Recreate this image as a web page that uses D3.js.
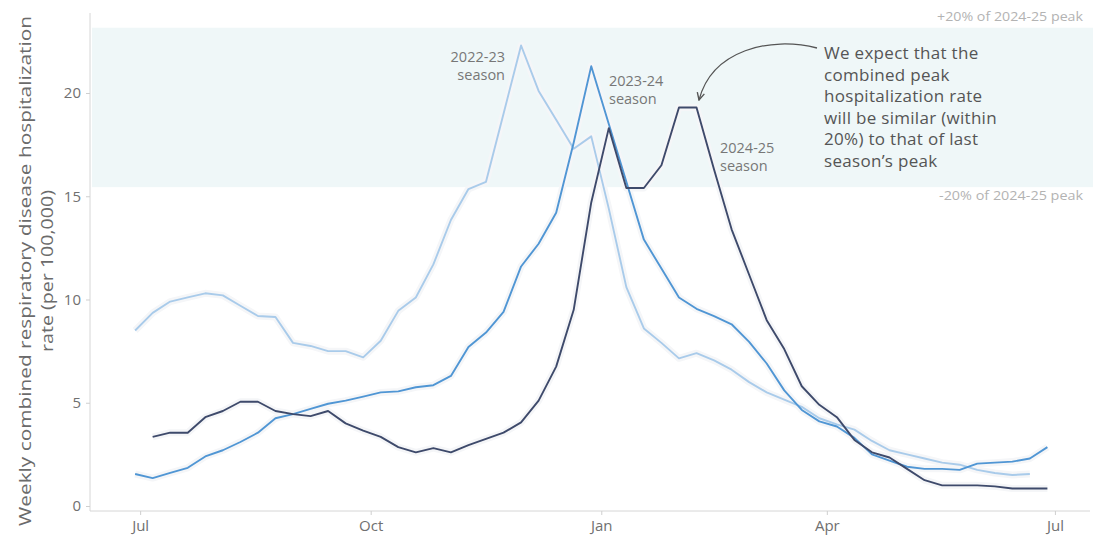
<!DOCTYPE html>
<html>
<head>
<meta charset="utf-8">
<script src="https://cdn.jsdelivr.net/npm/d3@7"></script>
<style>
  body { margin: 0; background: #fff; }
  text { font-family: "Open Sans", "Noto Sans", sans-serif; }
</style>
</head>
<body>
<div id="chart"></div>
<script>
// weekly rates per 100,000, each season placed on a Jul-Jul axis
var season2223 = [8.5, 9.35, 9.9, 10.1, 10.3, 10.2, 9.7, 9.2, 9.15, 7.9, 7.75, 7.5, 7.5, 7.2, 8.0, 9.45,
    10.1, 11.7, 13.85, 15.35, 15.7, 19.0, 22.3, 20.1, 18.7, 17.3, 17.9, 14.4, 10.6, 8.6, 7.9, 7.15,
    7.4, 7.05, 6.6, 6.0, 5.5, 5.15, 4.8, 4.25, 3.95, 3.7, 3.15, 2.7, 2.5, 2.3, 2.1, 2.0, 1.75, 1.6, 1.5, 1.55];
var season2324 = [1.55, 1.35, 1.6, 1.85, 2.4, 2.7, 3.1, 3.55, 4.25, 4.45, 4.7, 4.95, 5.1, 5.3, 5.5, 5.55,
    5.75, 5.85, 6.3, 7.7, 8.4, 9.4, 11.6, 12.7, 14.2, 17.6, 21.3, 18.5, 15.7, 12.9, 11.5, 10.1,
    9.55, 9.2, 8.8, 7.95, 6.9, 5.6, 4.65, 4.1, 3.85, 3.3, 2.5, 2.2, 1.9, 1.8, 1.8, 1.75, 2.05, 2.1, 2.15, 2.3, 2.85];
var season2425 = [3.35, 3.55, 3.55, 4.3, 4.6, 5.05, 5.05, 4.6, 4.45, 4.35, 4.6, 4.0, 3.65, 3.35, 2.85, 2.6,
    2.8, 2.6, 2.95, 3.25, 3.55, 4.05, 5.1, 6.75, 9.5, 14.7, 18.3, 15.4, 15.4, 16.5, 19.3, 19.3,
    16.3, 13.4, 11.2, 9.0, 7.6, 5.8, 4.9, 4.3, 3.2, 2.6, 2.35, 1.8, 1.25, 1.0, 1.0, 1.0, 0.95, 0.85, 0.85, 0.85];
var seasonNames = ["2022-23", "2023-24", "2024-25"];
var seasonStarts = ["2024-06-29", "2024-06-29", "2024-07-06"];
var seasonColors = ["#a9cbea", "#5096d4", "#3e4a6b"];
var monthTicks = ["2024-07-01", "2024-10-01", "2025-01-01", "2025-04-01", "2025-07-01"];
var yTicks = [0, 5, 10, 15, 20];
var lastPeak = 19.3;
var noteLines = ["We expect that the", "combined peak", "hospitalization rate",
    "will be similar (within", "20%) to that of last", "season\u2019s peak"];

var width = 1098, height = 536;
var parse = d3.timeParse("%Y-%m-%d");

var svg = d3.select("#chart").append("svg")
    .attr("width", width)
    .attr("height", height);

var x = d3.scaleTime()
    .domain([parse("2024-06-11"), parse("2025-07-15")])
    .range([90, 1090]);
var y = d3.scaleLinear().domain([0, 24]).range([506, 10.4]);

// band +-20% of last peak
svg.append("rect")
    .attr("x", 92)
    .attr("width", 1001)
    .attr("y", y(lastPeak * 1.2))
    .attr("height", y(lastPeak * 0.8) - y(lastPeak * 1.2))
    .attr("fill", "#eff7f8");

svg.append("text")
    .attr("x", 1083).attr("y", y(lastPeak * 1.2) - 7)
    .attr("text-anchor", "end")
    .attr("font-size", 13)
    .attr("fill", "#b3b3b3")
    .attr("textLength", 146).attr("lengthAdjust", "spacingAndGlyphs")
    .text("+20% of 2024-25 peak");
svg.append("text")
    .attr("x", 1083).attr("y", y(lastPeak * 0.8) + 13)
    .attr("text-anchor", "end")
    .attr("font-size", 13)
    .attr("fill", "#b3b3b3")
    .attr("textLength", 144).attr("lengthAdjust", "spacingAndGlyphs")
    .text("-20% of 2024-25 peak");

// axes
svg.append("line")
    .attr("x1", 90).attr("x2", 90)
    .attr("y1", 13).attr("y2", 511)
    .attr("stroke", "#d6d6d6");
svg.append("line")
    .attr("x1", 90).attr("x2", 1090)
    .attr("y1", 511).attr("y2", 511)
    .attr("stroke", "#d6d6d6");

var axisY = svg.append("g")
    .attr("transform", "translate(90,0)")
    .call(d3.axisLeft(y).tickValues(yTicks).tickSize(4).tickPadding(5));
var axisX = svg.append("g")
    .attr("transform", "translate(0,511)")
    .call(d3.axisBottom(x).tickValues(monthTicks.map(parse))
        .tickFormat(d3.timeFormat("%b")).tickSize(4).tickPadding(5));
[axisX, axisY].forEach(function (a) {
    a.select(".domain").remove();
    a.selectAll(".tick line").attr("stroke", "#cfcfcf");
    a.selectAll(".tick text")
        .attr("fill", "#707070")
        .attr("font-size", 15)
        .style("font-family", "'Open Sans', sans-serif");
});

// y title
var title = svg.append("g")
    .attr("transform", "translate(0,271) rotate(-90)")
    .attr("text-anchor", "middle")
    .attr("fill", "#6b6b6b")
    .attr("font-size", 17);
title.append("text").attr("x", 0).attr("y", 31)
    .attr("textLength", 510).attr("lengthAdjust", "spacingAndGlyphs")
    .text("Weekly combined respiratory disease hospitalization");
title.append("text").attr("x", 0).attr("y", 53)
    .attr("textLength", 162).attr("lengthAdjust", "spacingAndGlyphs")
    .text("rate (per 100,000)");

// lines
var seasons = [season2223, season2324, season2425].map(function (vals, k) {
    var start = parse(seasonStarts[k]);
    return {
        name: seasonNames[k],
        color: seasonColors[k],
        values: vals.map(function (v, i) {
            return {date: d3.timeDay.offset(start, 7 * i), rate: v};
        })
    };
});

var line = d3.line()
    .x(function (d) { return x(d.date); })
    .y(function (d) { return y(d.rate); });

// halos first so they never cut another season's line
svg.append("g").selectAll("path")
    .data(seasons)
    .join("path")
    .attr("fill", "none")
    .attr("stroke", "#f5f6f8")
    .attr("stroke-width", 7)
    .attr("stroke-linejoin", "round")
    .attr("d", function (s) { return line(s.values); });
svg.append("g").selectAll("path")
    .data(seasons)
    .join("path")
    .attr("class", "line")
    .attr("fill", "none")
    .attr("stroke", function (s) { return s.color; })
    .attr("stroke-width", 1.9)
    .attr("stroke-linejoin", "round")
    .attr("d", function (s) { return line(s.values); });

// season labels
var labelPos = [
    {x: 505, y: 62, anchor: "end"},
    {x: 609, y: 86, anchor: "start"},
    {x: 720, y: 153, anchor: "start"}
];
seasons.forEach(function (s, k) {
    var t = svg.append("text")
        .attr("x", labelPos[k].x).attr("y", labelPos[k].y)
        .attr("text-anchor", labelPos[k].anchor)
        .attr("font-size", 14.5)
        .attr("fill", "#777");
    t.append("tspan").attr("x", labelPos[k].x).text(s.name);
    t.append("tspan").attr("x", labelPos[k].x).attr("dy", 18).text("season");
});

// annotation, one text per line
svg.append("g").selectAll("text")
    .data(noteLines)
    .join("text")
    .attr("x", 824)
    .attr("y", function (l, i) { return 59 + i * 21.6; })
    .attr("font-size", 17)
    .attr("letter-spacing", 0.3)
    .attr("fill", "#555")
    .text(function (l) { return l; });

svg.append("defs").append("marker")
    .attr("id", "arr")
    .attr("viewBox", "0 0 10 10")
    .attr("refX", 9).attr("refY", 5)
    .attr("markerWidth", 7).attr("markerHeight", 7)
    .attr("orient", "auto")
    .append("path")
    .attr("d", "M1,1 L9,5 L1,9")
    .attr("fill", "none")
    .attr("stroke", "#555")
    .attr("stroke-width", 1.5);

svg.append("path")
    .attr("d", "M817,48 C770,36 712,50 699,100")
    .attr("fill", "none")
    .attr("stroke", "#555")
    .attr("stroke-width", 1.3)
    .attr("marker-end", "url(#arr)");
</script>
</body>
</html>
